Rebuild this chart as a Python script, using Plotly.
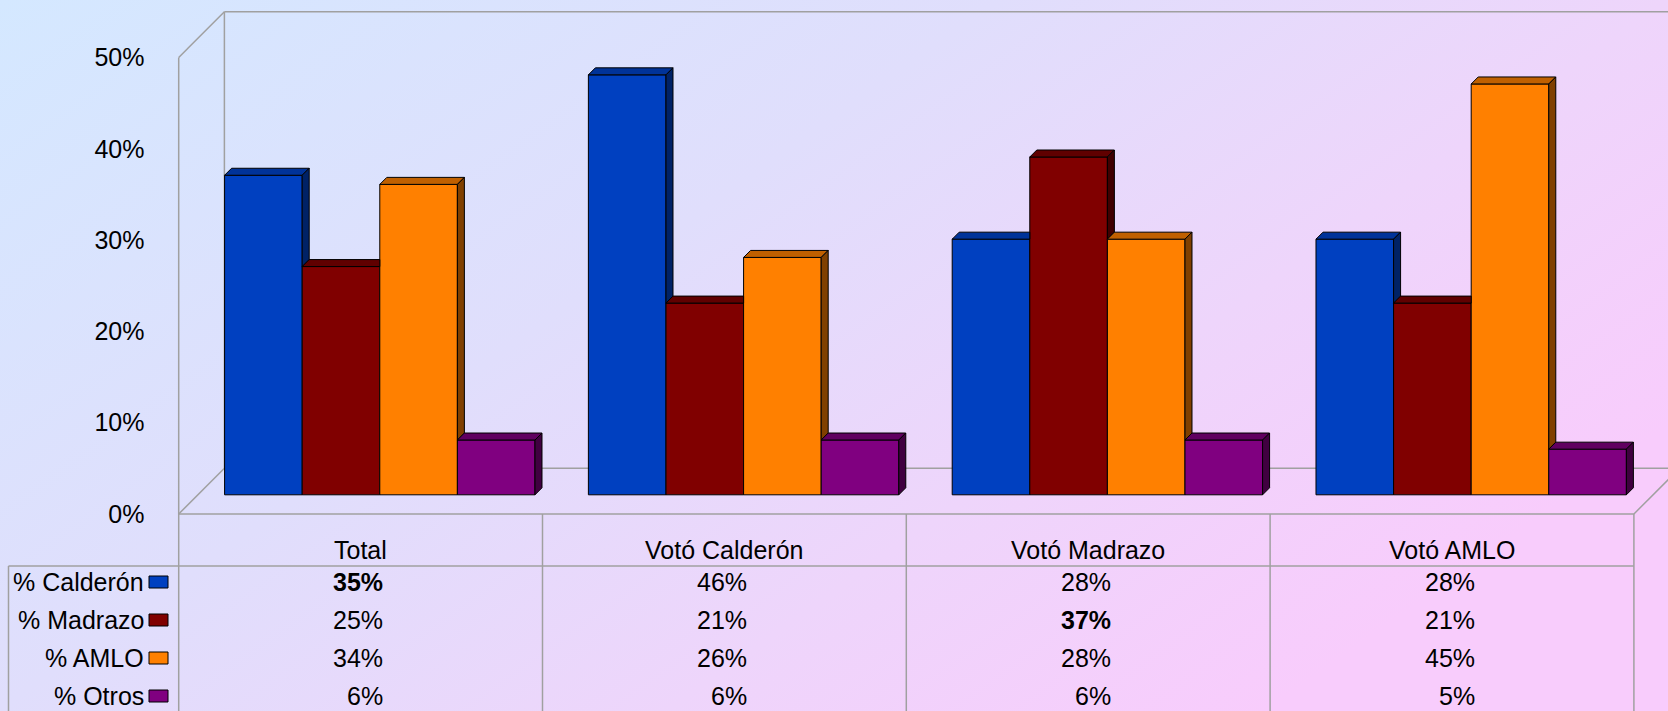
import base64
import plotly.graph_objects as go

# ---------------- data ----------------
categories = ["Total", "Votó Calderón", "Votó Madrazo", "Votó AMLO"]
series_names = ["% Calderón", "% Madrazo", "% AMLO", "% Otros"]
calderon = [35, 46, 28, 28]
madrazo = [25, 21, 37, 21]
amlo = [34, 26, 28, 45]
otros = [6, 6, 6, 5]
series_values = [calderon, madrazo, amlo, otros]
bold_cells = [(0, 0), (1, 2)]  # (series index, category index)
tick_values = [0, 10, 20, 30, 40, 50]
tick_labels = ["0%", "10%", "20%", "30%", "40%", "50%"]

# ---------------- style ----------------
front_colors = ["#0040C0", "#800000", "#FF8000", "#800080"]
top_colors = ["#003399", "#600000", "#C06000", "#600060"]
side_colors = ["#002266", "#400000", "#804000", "#400040"]
FONT = "Liberation Sans, Arial, sans-serif"
FS = 25
GRID = "#A0A0A0"

W, H = 1668, 711
PX_CAT = 363.8          # pixels per category
PX_PCT = 9.13           # pixels per percent
X_LEFT_PX = 178.7       # pixel of front-left edge (x = -0.5)
Y0_PX = 514.0           # pixel of 0 % on front plane

x0 = -0.5 - X_LEFT_PX / PX_CAT
x1 = x0 + W / PX_CAT
y_top = Y0_PX / PX_PCT
y_bot = -(H - Y0_PX) / PX_PCT

# 3-D box depth (floor / walls)
DDX = 45.7 / PX_CAT
DDY = 45.7 / PX_PCT
# bars sit at this fraction of the depth
FRAC = 0.42
FX, FY = FRAC * DDX, FRAC * DDY
# bar depth
BDX, BDY = 7 / PX_CAT, 7 / PX_PCT
BW = 77.6 / PX_CAT
n_cat = len(categories)
n_ser = len(series_names)

fig = go.Figure()

# front faces
for k in range(n_ser):
    fig.add_trace(go.Bar(
        x=[i + FX for i in range(n_cat)], y=series_values[k], base=FY,
        width=BW, offset=-2 * BW + k * BW,
        marker=dict(color=front_colors[k], line=dict(color="#000000", width=1)),
        name=series_names[k], showlegend=False, hoverinfo="skip"))

# top & side faces
for k in range(n_ser):
    tx, ty, sx, sy = [], [], [], []
    for i in range(n_cat):
        xl = i + FX - 2 * BW + k * BW
        xr = xl + BW
        b = FY
        t = FY + series_values[k][i]
        t_next = FY + series_values[k + 1][i] if k < n_ser - 1 else None
        # top face
        if t_next is not None and t_next > t:
            pts = [(xl, t), (xr, t), (xr, t + BDY), (xl + BDX, t + BDY), (xl, t)]
        else:
            pts = [(xl, t), (xr, t), (xr + BDX, t + BDY), (xl + BDX, t + BDY), (xl, t)]
        tx += [p[0] for p in pts] + [None]
        ty += [p[1] for p in pts] + [None]
        # side face
        if t_next is None or t_next < t:
            bb = b if t_next is None else max(b, t_next)
            pts = [(xr, bb), (xr + BDX, bb + BDY), (xr + BDX, t + BDY), (xr, t), (xr, bb)]
            sx += [p[0] for p in pts] + [None]
            sy += [p[1] for p in pts] + [None]
    fig.add_trace(go.Scatter(x=tx, y=ty, mode="lines", fill="toself",
                             fillcolor=top_colors[k], line=dict(color="#000000", width=1),
                             showlegend=False, hoverinfo="skip"))
    if sx:
        fig.add_trace(go.Scatter(x=sx, y=sy, mode="lines", fill="toself",
                                 fillcolor=side_colors[k], line=dict(color="#000000", width=1),
                                 showlegend=False, hoverinfo="skip"))

# ---------------- frame (walls & floor) ----------------
YMAX = tick_values[-1]
xl_f, xr_f = -0.5, n_cat - 0.5
shapes = []
def seg(xa, ya, xb, yb, layer="below"):
    shapes.append(dict(type="line", xref="x", yref="y", x0=xa, y0=ya, x1=xb, y1=yb,
                       line=dict(color=GRID, width=1.5), layer=layer))

seg(xl_f + DDX, YMAX + DDY, xr_f + DDX, YMAX + DDY)     # back wall top
seg(xl_f + DDX, DDY, xl_f + DDX, YMAX + DDY)            # back wall left
seg(xl_f, YMAX, xl_f + DDX, YMAX + DDY)                 # side wall top
seg(xl_f, 0, xl_f, YMAX)                                # side wall front
seg(xl_f + DDX, DDY, xr_f + DDX, DDY)                   # floor back
seg(xl_f, 0, xr_f, 0)                                   # floor front
seg(xl_f, 0, xl_f + DDX, DDY)                           # floor left
seg(xr_f, 0, xr_f + DDX, DDY)                           # floor right

# ---------------- data table ----------------
HDR_Y = (Y0_PX - 550) / PX_PCT
HDR_LINE = (Y0_PX - 566) / PX_PCT
ROW_H = 38 / PX_PCT
row_y = [(Y0_PX - 582) / PX_PCT - r * ROW_H for r in range(n_ser)]
LEG_X = -0.5 - (X_LEFT_PX - 8.5) / PX_CAT
LABEL_X = -0.5 - (X_LEFT_PX - 146) / PX_CAT
KEY_X0 = -0.5 - (X_LEFT_PX - 149) / PX_CAT
KEY_X1 = -0.5 - (X_LEFT_PX - 168) / PX_CAT
KEY_H = 6 / PX_PCT
VAL_DX = 24.5 / PX_CAT

for c in range(n_cat + 1):
    seg(c - 0.5, 0, c - 0.5, y_bot - 1)
seg(LEG_X, HDR_LINE, xr_f, HDR_LINE)
seg(LEG_X, HDR_LINE, LEG_X, y_bot - 1)

annotations = []
for i, cat in enumerate(categories):
    annotations.append(dict(x=i, y=HDR_Y, xref="x", yref="y", text=cat, showarrow=False,
                            xanchor="center", yanchor="middle",
                            font=dict(family=FONT, size=FS, color="#000000")))
for k, name in enumerate(series_names):
    annotations.append(dict(x=LABEL_X, y=row_y[k], xref="x", yref="y", text=name,
                            showarrow=False, xanchor="right", yanchor="middle",
                            font=dict(family=FONT, size=FS, color="#000000")))
    shapes.append(dict(type="rect", xref="x", yref="y", x0=KEY_X0, x1=KEY_X1,
                       y0=row_y[k] - KEY_H, y1=row_y[k] + KEY_H,
                       fillcolor=front_colors[k], line=dict(color="#000000", width=1),
                       layer="above"))
    for i in range(n_cat):
        v = series_values[k][i]
        txt = f"{v}%"
        if (k, i) in bold_cells:
            txt = f"<b>{txt}</b>"
        annotations.append(dict(x=i + VAL_DX, y=row_y[k], xref="x", yref="y", text=txt,
                                showarrow=False, xanchor="right", yanchor="middle",
                                font=dict(family=FONT, size=FS, color="#000000")))

# ---------------- background gradient ----------------
svg = (
    "<svg xmlns='http://www.w3.org/2000/svg' width='1668' height='711' preserveAspectRatio='none'>"
    "<defs><linearGradient id='g' x1='0' y1='0' x2='1' y2='0.6'>"
    "<stop offset='0' stop-color='#D4E8FF'/>"
    "<stop offset='0.44' stop-color='#E0DEFC'/>"
    "<stop offset='0.735' stop-color='#EED5FB'/>"
    "<stop offset='1' stop-color='#F8CCFC'/>"
    "</linearGradient></defs><rect width='1668' height='711' fill='url(#g)'/></svg>"
)
src = "data:image/svg+xml;base64," + base64.b64encode(svg.encode()).decode()

fig.update_layout(
    width=W, height=H,
    margin=dict(l=0, r=0, t=0, b=0),
    paper_bgcolor="#E6DCFA", plot_bgcolor="rgba(0,0,0,0)",
    barmode="overlay",
    showlegend=False,
    images=[dict(source=src, xref="paper", yref="paper", x=0, y=1, sizex=1, sizey=1,
                 sizing="stretch", xanchor="left", yanchor="top", layer="below")],
    xaxis=dict(range=[x0, x1], visible=False, fixedrange=True),
    yaxis=dict(range=[y_bot, y_top], anchor="free", position=144.5 / W,
               tickvals=tick_values, ticktext=tick_labels, showgrid=False,
               zeroline=False, showline=False, ticks="", fixedrange=True,
               tickfont=dict(family=FONT, size=FS, color="#000000")),
    shapes=shapes,
    annotations=annotations,
)

fig.write_html(
    "out.html",
    config={"displayModeBar": False},
    post_script="document.body.style.margin='0';document.body.style.overflow='hidden';",
)
